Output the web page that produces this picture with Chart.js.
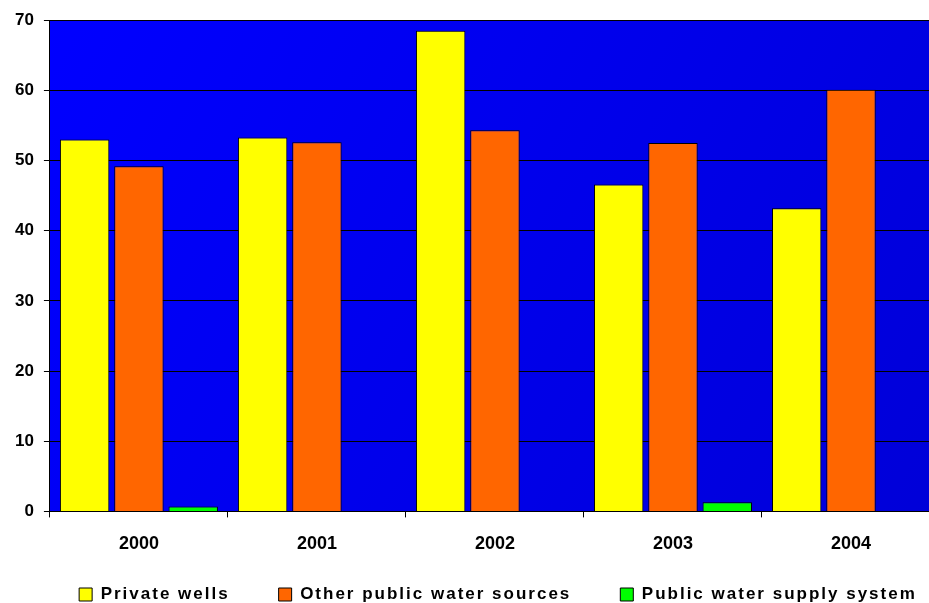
<!DOCTYPE html>
<html lang="en">
<head>
<meta charset="utf-8">
<title>Water sources</title>
<script src="https://cdn.jsdelivr.net/npm/chart.js"></script>
<style>
    html, body {
        margin: 0;
        padding: 0;
        background: #fff;
        overflow: hidden;
    }

    #chart {
        display: block;
    }
</style>
</head>
<body>
<canvas id="chart" width="940" height="647" style="width: 940px; height: 647px;"></canvas>
<script>
    const years = ['2000', '2001', '2002', '2003', '2004'];
    const privateWells = [53.0, 53.3, 68.5, 46.6, 43.2];
    const otherPublic = [49.2, 52.6, 54.3, 52.5, 60.1];
    const publicSupply = [0.7, null, null, 1.3, null];
    const yMin = 0;
    const yMax = 70;
    const yStep = 10;

    Chart.defaults.font.family = "'Liberation Sans', Arial, sans-serif";
    Chart.defaults.color = '#000';

    // blue plot area, a little darker towards the bottom right
    const plotBackground = {
        id: 'plotBackground',
        beforeDraw(chart) {
            const {ctx, chartArea: a} = chart;
            const g = ctx.createLinearGradient(a.left, a.top, a.right, a.bottom);
            g.addColorStop(0, '#0000ff');
            g.addColorStop(1, '#0000d8');
            ctx.save();
            ctx.fillStyle = g;
            ctx.fillRect(a.left, a.top, a.width, a.height);
            ctx.restore();
        }
    };

    // legend text is letter-spaced, items kept on one line, and it sits a bit closer to the axis
    const legendSpacing = {
        id: 'legendSpacing',
        beforeUpdate(chart) {
            const lg = chart.legend;
            if (!lg || lg._spaced) return;
            lg._spaced = true;
            const fit = lg.fit;
            const draw = lg.draw;
            lg.fit = function () {
                this.maxWidth = Math.max(this.maxWidth, 1200);
                this.ctx.save();
                this.ctx.letterSpacing = '2px';
                fit.call(this);
                this.ctx.letterSpacing = '0px';
                this.ctx.restore();
            };
            lg.draw = function () {
                const left = this.left, right = this.right;
                this.left -= 100;
                this.right += 100;
                this.ctx.save();
                this.ctx.letterSpacing = '2px';
                this.ctx.translate(3, -34);
                draw.call(this);
                this.ctx.letterSpacing = '0px';
                this.ctx.restore();
                this.left = left;
                this.right = right;
            };
        }
    };

    const ctx = document.getElementById('chart').getContext('2d');
    new Chart(ctx, {
        type: 'bar',
        data: {
            labels: years,
            datasets: [
                {
                    label: 'Private wells',
                    data: privateWells,
                    backgroundColor: '#ffff00',
                    borderColor: '#000',
                    borderWidth: 1,
                },
                {
                    label: 'Other public water sources',
                    data: otherPublic,
                    backgroundColor: '#ff6600',
                    borderColor: '#000',
                    borderWidth: 1,
                },
                {
                    label: 'Public water supply system',
                    data: publicSupply,
                    backgroundColor: '#00ff00',
                    borderColor: '#000',
                    borderWidth: 1,
                },
            ],
        },
        options: {
            responsive: false,
            maintainAspectRatio: false,
            animation: false,
            categoryPercentage: 0.915,
            barPercentage: 0.91,
            layout: {
                padding: {top: 20, left: 5, right: 0, bottom: 0}
            },
            plugins: {
                legend: {
                    position: 'bottom',
                    fullSize: false,
                    labels: {
                        boxWidth: 13,
                        boxHeight: 13,
                        padding: 49,
                        color: '#000',
                        font: {size: 17, weight: 'bold'}
                    }
                },
                tooltip: {enabled: false}
            },
            scales: {
                x: {
                    offset: true,
                    grid: {
                        offset: true,
                        drawOnChartArea: false,
                        color: '#000',
                        tickLength: 6
                    },
                    border: {color: '#000', width: 1},
                    ticks: {
                        color: '#000',
                        padding: 16,
                        font: {size: 18, weight: 'bold'}
                    }
                },
                y: {
                    min: yMin,
                    max: yMax,
                    grid: {
                        color: '#000',
                        lineWidth: 1,
                        tickLength: 6
                    },
                    border: {color: '#000', width: 1},
                    ticks: {
                        stepSize: yStep,
                        color: '#000',
                        padding: 10,
                        font: {size: 17, weight: 'bold'}
                    }
                }
            }
        },
        plugins: [plotBackground, legendSpacing]
    });
</script>
</body>
</html>
